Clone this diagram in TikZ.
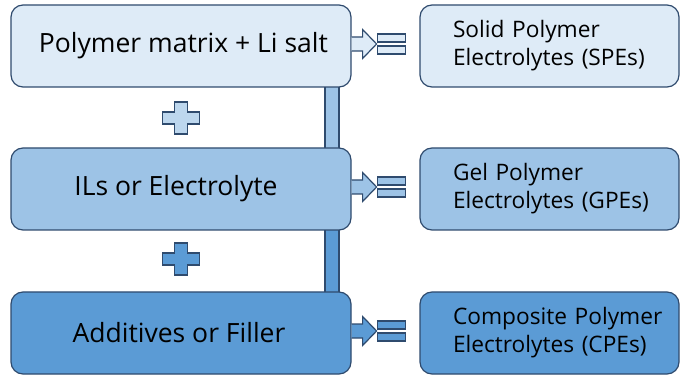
\documentclass[tikz,border=0pt]{standalone}
\usepackage{fontspec}
\setmainfont{Open Sans}
\newcommand{\rind}{\hspace*{23.5pt}}
\begin{document}
\begin{tikzpicture}[x=1pt,y=-1pt,
  edge/.style={draw=bordc, line width=1.2pt},
  lbox/.style={edge, rounded corners=12pt, minimum width=340pt, minimum height=82pt, inner sep=0pt, font=\fontsize{26.5}{30}\selectfont},
  rbox/.style={edge, rounded corners=12pt, minimum width=259pt, minimum height=82pt, inner sep=0pt, text width=240pt, align=left, font=\fontsize{22.7}{28}\selectfont}]
\definecolor{bordc}{HTML}{2F4B6E}
\definecolor{c1}{HTML}{DEEBF7}
\definecolor{c2}{HTML}{9DC3E6}
\definecolor{c3}{HTML}{5B9BD5}
\definecolor{cp1}{HTML}{BDD7EE}
\useasboundingbox (0,0) rectangle (681,377);
% vertical bar
\fill[c2, edge] (325,80) rectangle (339,155);
\fill[c3, edge] (325,223) rectangle (339,299);
% boxes
\node[lbox, fill=c1] (b1) at (181,46) {\hspace*{5pt}Polymer matrix + Li salt};
\node[lbox, fill=c2] (b2) at (181,189) {ILs or Electrolyte\hspace*{10pt}};
\node[lbox, fill=c3] (b3) at (181,333) {Additives or Filler\hspace*{4pt}};
\node[rbox, fill=c1] (r1) at (549.5,46) {\rind Solid Polymer\\\rind Electrolytes (SPEs)};
\node[rbox, fill=c2] (r2) at (549.5,189) {\rind Gel Polymer\\\rind Electrolytes (GPEs)};
\node[rbox, fill=c3] (r3) at (549.5,333) {\rind Composite Polymer\\\rind Electrolytes (CPEs)};
% plus signs
\foreach \cy/\col in {118/cp1, 259/c3}{
  \filldraw[edge, fill=\col] (174.5,\cy-16) -- (187.5,\cy-16) -- (187.5,\cy-6) -- (199.5,\cy-6) -- (199.5,\cy+6) -- (187.5,\cy+6) -- (187.5,\cy+16) -- (174.5,\cy+16) -- (174.5,\cy+6) -- (162.5,\cy+6) -- (162.5,\cy-6) -- (174.5,\cy-6) -- cycle;
}
% arrows and equals
\foreach \b/\col in {b1/c1, b2/c2, b3/c3}{
  \path ([yshift=2]\b.east) coordinate (s\b);
  \filldraw[edge, fill=\col] ([yshift=7]s\b) -- ++(11,0) -- ++(0,-7.5) -- ++(14,14.5) -- ++(-14,14.5) -- ++(0,-7.5) -- ++(-11,0);
  \filldraw[edge, fill=\col] ([xshift=26,yshift=10]s\b) rectangle ++(28,8);
  \filldraw[edge, fill=\col] ([xshift=26,yshift=-2]s\b) rectangle ++(28,8);
}
\end{tikzpicture}
\end{document}
